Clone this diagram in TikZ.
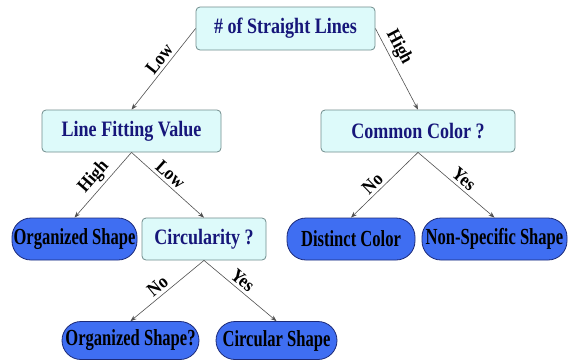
\documentclass[tikz,border=0pt]{standalone}
\usepackage{fontspec}
\setmainfont{Liberation Serif}
\newfontfamily\innerfont[FakeStretch=0.82]{Liberation Serif}
\newfontfamily\leaffont[FakeStretch=0.72]{Liberation Serif}
\newfontfamily\lblfont[FakeStretch=0.9]{Liberation Serif}
\usetikzlibrary{arrows.meta}
\definecolor{boxfill}{HTML}{DDFAFA}
\definecolor{boxline}{HTML}{6F8C8C}
\definecolor{boxtext}{HTML}{16167A}
\definecolor{leaffill}{HTML}{3F6EF2}
\definecolor{leafline}{HTML}{1C2A78}
\definecolor{edgecol}{HTML}{505050}
\tikzset{
  inner/.style={draw=boxline, fill=boxfill, line width=0.8pt, rounded corners=4pt,
    text=boxtext, font=\innerfont\bfseries\fontsize{22}{24}\selectfont,
    inner sep=0pt, minimum height=42pt},
  leaf/.style={draw=leafline, fill=leaffill, line width=0.8pt, rounded corners=19pt,
    text=black, font=\leaffont\bfseries\fontsize{23}{25}\selectfont,
    inner sep=0pt, minimum height=42pt},
  conn/.style={draw=edgecol, line width=0.6pt, -{Stealth[length=6pt,width=4.5pt]}},
  lbl/.style={font=\lblfont\bfseries\fontsize{19}{21}\selectfont, text=black,
    sloped, above, inner sep=3pt}
}
\begin{document}
\begin{tikzpicture}[x=1pt,y=-1pt]
\useasboundingbox (0,0) rectangle (568,360);
\node[inner, minimum width=179pt, minimum height=43pt] (root) at (285.5,28.5) {\# of Straight Lines};
\node[inner, minimum width=179pt] (lfv) at (131.5,131) {Line Fitting Value};
\node[inner, minimum width=194pt] (cc) at (418,131) {Common Color ?};
\node[leaf, minimum width=125pt] (os) at (74.5,239) {Organized Shape};
\node[inner, minimum width=124pt] (circ) at (204,239) {Circularity ?};
\node[leaf, minimum width=128pt] (dc) at (351,239) {Distinct Color};
\node[leaf, minimum width=145pt] (nss) at (494.5,239) {Non-Specific Shape};
\node[leaf, minimum width=137pt, minimum height=38pt] (os2) at (130.5,340.5) {Organized Shape?};
\node[leaf, minimum width=121pt, minimum height=38pt] (cs) at (276.5,340.5) {Circular Shape};

\draw[conn] (root.west) -- node[lbl, pos=0.45] {Low} (lfv.north);
\draw[conn] (root.east) -- node[lbl, pos=0.3] {High} (cc.north);
\draw[conn] (lfv.south) -- node[lbl, pos=0.5] {High} (os.north);
\draw[conn] (lfv.south) -- node[lbl, pos=0.45] {Low} (circ.north);
\draw[conn] (cc.south) -- node[lbl, pos=0.58] {No} (dc.north);
\draw[conn] (cc.south) -- node[lbl, pos=0.52] {Yes} (nss.north);
\draw[conn] (circ.south) -- node[lbl, pos=0.55] {No} (os2.north);
\draw[conn] (circ.south) -- node[lbl, pos=0.45] {Yes} (cs.north);
\end{tikzpicture}
\end{document}
